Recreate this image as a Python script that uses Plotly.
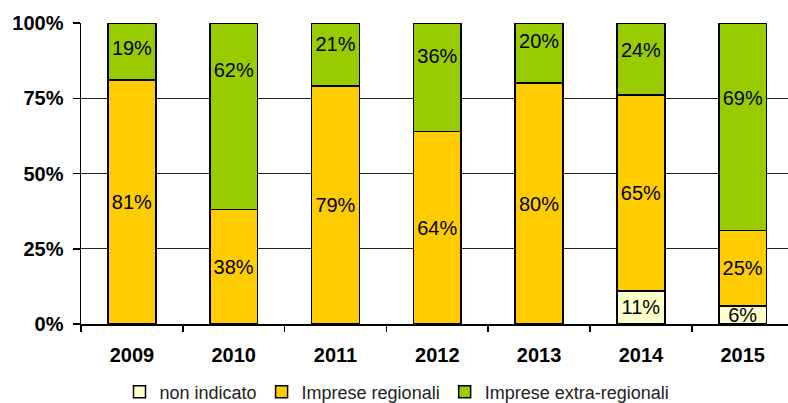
import plotly.graph_objects as go

years = ["2009", "2010", "2011", "2012", "2013", "2014", "2015"]
non_indicato = [0, 0, 0, 0, 0, 11, 6]
imprese_regionali = [81, 38, 79, 64, 80, 65, 25]
imprese_extra = [19, 62, 21, 36, 20, 24, 69]

# vertical position (in % of axis) where the extra-regional labels sit in the original
extra_label_pos = [91.0, 83.7, 92.4, 88.4, 93.4, 90.4, 74.4]

series = [
    ("non indicato", non_indicato, "#FFFFCC", True),
    ("Imprese regionali", imprese_regionali, "#FFCC00", True),
    ("Imprese extra-regionali", imprese_extra, "#99CC00", False),
]

FONT = "Liberation Sans, Arial, sans-serif"

fig = go.Figure()
for name, vals, color, inside_text in series:
    fig.add_trace(go.Bar(
        x=years,
        y=[v / 100 for v in vals],
        name=name,
        marker=dict(color=color, line=dict(color="black", width=1.5)),
        text=[f"{v}%" if (v > 0 and inside_text) else "" for v in vals],
        textposition="inside",
        insidetextanchor="middle",
        constraintext="none",
        textfont=dict(family=FONT, size=20, color="black"),
        hoverinfo="skip",
        cliponaxis=True,
    ))

fig.add_trace(go.Scatter(
    x=years,
    y=[p / 100 for p in extra_label_pos],
    mode="text",
    text=[f"{v}%" for v in imprese_extra],
    textposition="middle center",
    textfont=dict(family=FONT, size=20, color="black"),
    showlegend=False,
    hoverinfo="skip",
))

fig.update_layout(
    barmode="stack",
    bargap=0.53,
    width=788,
    height=403,
    margin=dict(l=81, r=0, t=23, b=79),
    paper_bgcolor="white",
    plot_bgcolor="white",
    font=dict(family=FONT, color="black"),
    showlegend=True,
    legend=dict(
        orientation="h",
        xref="container", yref="container",
        x=0.5 + 3 / 788, xanchor="center",
        y=1 - 392 / 403, yanchor="middle",
        font=dict(size=18, color="#222222", family=FONT),
        traceorder="normal",
        itemclick=False,
    ),
    xaxis=dict(
        type="category",
        range=[-0.5, 6.445],
        showline=True, linecolor="black", linewidth=1.5,
        ticks="outside", ticklen=6, tickcolor="black", tickwidth=1.5,
        tickson="boundaries",
        showgrid=False,
        tickfont=dict(size=20, family=FONT, weight="bold"),
        ticklabelstandoff=12,
    ),
    yaxis=dict(
        range=[0, 1],
        tickvals=[0, 0.25, 0.5, 0.75, 1.0],
        ticktext=["0%", "25%", "50%", "75%", "100%"],
        showline=True, linecolor="black", linewidth=1.5,
        ticks="outside", ticklen=7, tickcolor="black", tickwidth=1.5,
        showgrid=True, gridcolor="#222222", gridwidth=1,
        zeroline=False,
        tickfont=dict(size=20, family=FONT, weight="bold"),
        ticklabelstandoff=5,
    ),
)

fig.write_html(
    "out.html",
    config={"displayModeBar": False, "staticPlot": True},
    post_script="document.body.style.margin='0';",
)
